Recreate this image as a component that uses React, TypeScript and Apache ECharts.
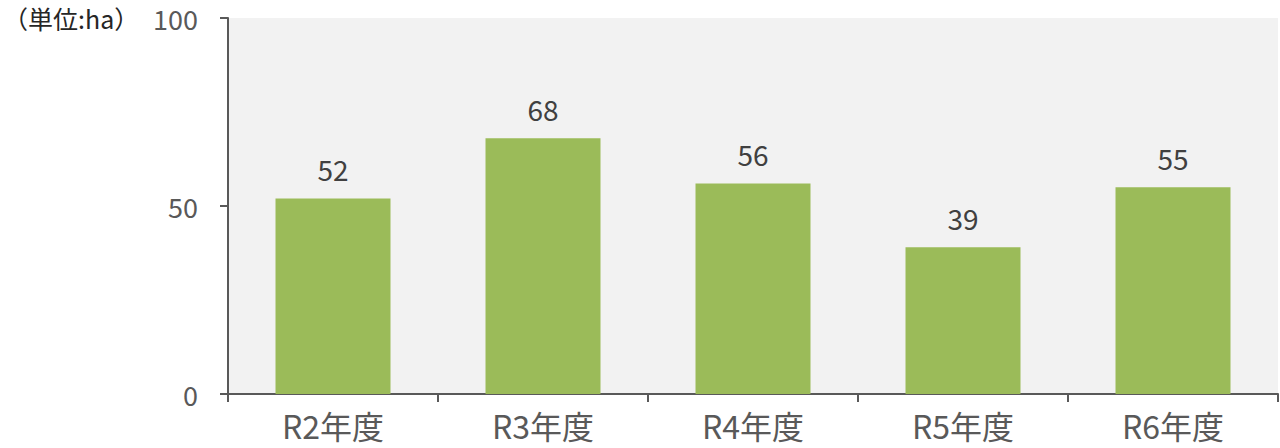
import React, { useEffect, useRef } from "react";
import * as echarts from "echarts";

const categories = ["R2年度", "R3年度", "R4年度", "R5年度", "R6年度"];
const values = [52, 68, 56, 39, 55];
const unitLabel = "（単位:ha）";

export default function App() {
  const ref = useRef<HTMLDivElement>(null);
  useEffect(() => {
    if (!ref.current) return;
    const chart = echarts.init(ref.current, undefined, { renderer: "svg" });
    const font = "'Noto Sans CJK JP', 'Noto Sans', sans-serif";
    chart.setOption({
      animation: false,
      grid: {
        left: 228,
        right: 2,
        top: 18,
        bottom: 54,
        show: true,
        backgroundColor: "#f2f2f2",
        borderWidth: 0,
      },
      graphic: [
        {
          type: "text",
          left: 3,
          top: 5,
          style: { text: unitLabel, fontSize: 25, fill: "#262626", fontFamily: font },
        },
      ],
      xAxis: {
        type: "category",
        data: categories,
        axisLine: { lineStyle: { color: "#595959", width: 2 } },
        axisTick: { show: true, length: 8, lineStyle: { color: "#595959", width: 2 } },
        axisLabel: { fontSize: 32, color: "#595959", margin: 15, fontFamily: font },
      },
      yAxis: {
        type: "value",
        min: 0,
        max: 100,
        interval: 50,
        axisLine: { show: true, lineStyle: { color: "#595959", width: 2 } },
        axisTick: { show: true, length: 8, lineStyle: { color: "#595959", width: 2 } },
        splitLine: { show: false },
        axisLabel: { fontSize: 27, color: "#595959", margin: 30, fontFamily: font },
      },
      series: [
        {
          type: "bar",
          data: values,
          barWidth: 115,
          itemStyle: { color: "#9bbb59" },
          label: {
            show: true,
            position: "top",
            distance: 15,
            fontSize: 28,
            color: "#404040",
            fontFamily: font,
          },
        },
      ],
    });
    return () => chart.dispose();
  }, []);
  return <div ref={ref} style={{ width: 1280, height: 448, position: "absolute", left: 0, top: 0 }} />;
}
